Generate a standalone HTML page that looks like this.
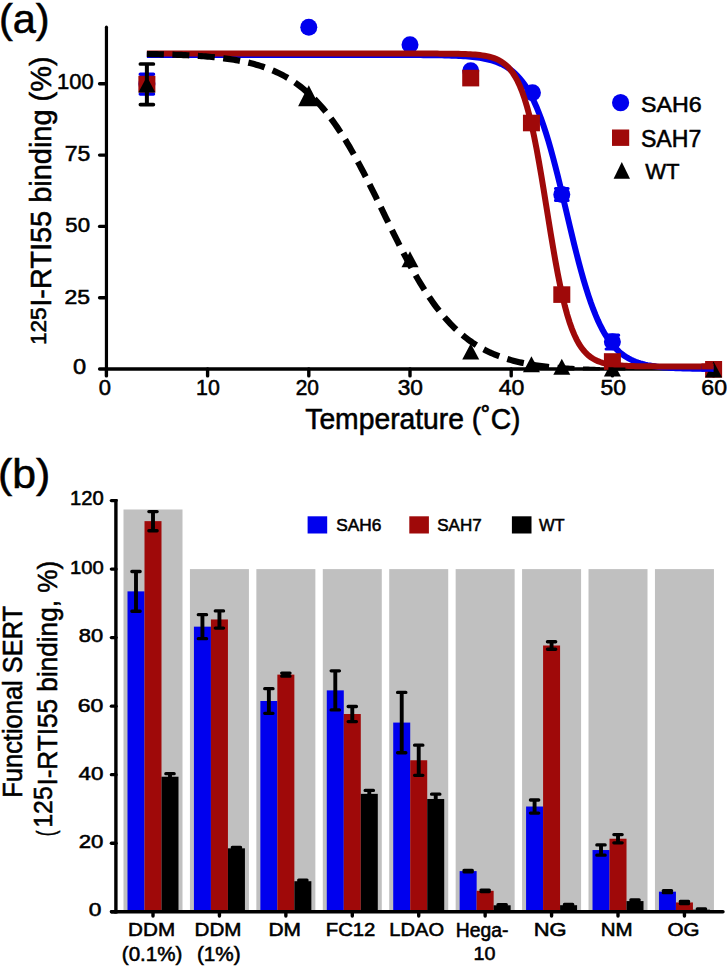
<!DOCTYPE html>
<html><head><meta charset="utf-8"><style>html,body{margin:0;padding:0;background:#fff;}svg{display:block;}text{font-family:"Liberation Sans",sans-serif;}</style></head>
<body><svg width="727" height="966" viewBox="0 0 727 966">
<rect width="727" height="966" fill="#fff"/>
<text transform="translate(-1.08,33.00) scale(0.9996,1)" font-size="41.54" font-family="'Liberation Sans', sans-serif" stroke="#000" stroke-width="0.55" >(a)</text>
<text transform="translate(57.03,89.29) scale(1.0028,1)" font-size="21.89" font-family="'Liberation Sans', sans-serif" stroke="#000" stroke-width="0.55" >100</text>
<text transform="translate(64.72,160.88) scale(1.0057,1)" font-size="22.93" font-family="'Liberation Sans', sans-serif" stroke="#000" stroke-width="0.55" >75</text>
<text transform="translate(65.31,232.10) scale(1.0897,1)" font-size="20.34" font-family="'Liberation Sans', sans-serif" stroke="#000" stroke-width="0.55" >50</text>
<text transform="translate(64.44,303.51) scale(1.1569,1)" font-size="19.92" font-family="'Liberation Sans', sans-serif" stroke="#000" stroke-width="0.55" >25</text>
<text transform="translate(73.08,374.29) scale(1.1084,1)" font-size="21.33" font-family="'Liberation Sans', sans-serif" stroke="#000" stroke-width="0.55" >0</text>
<text transform="translate(98.74,395.39) scale(1.0231,1)" font-size="21.47" font-family="'Liberation Sans', sans-serif" stroke="#000" stroke-width="0.55" >0</text>
<text transform="translate(196.07,395.39) scale(0.9951,1)" font-size="21.47" font-family="'Liberation Sans', sans-serif" stroke="#000" stroke-width="0.55" >10</text>
<text transform="translate(295.65,395.39) scale(0.9744,1)" font-size="21.47" font-family="'Liberation Sans', sans-serif" stroke="#000" stroke-width="0.55" >20</text>
<text transform="translate(397.64,395.39) scale(1.0574,1)" font-size="21.47" font-family="'Liberation Sans', sans-serif" stroke="#000" stroke-width="0.55" >30</text>
<text transform="translate(498.67,395.39) scale(1.0732,1)" font-size="21.47" font-family="'Liberation Sans', sans-serif" stroke="#000" stroke-width="0.55" >40</text>
<text transform="translate(600.38,395.39) scale(1.0685,1)" font-size="21.47" font-family="'Liberation Sans', sans-serif" stroke="#000" stroke-width="0.55" >50</text>
<text transform="translate(701.33,395.39) scale(1.0751,1)" font-size="21.47" font-family="'Liberation Sans', sans-serif" stroke="#000" stroke-width="0.55" >60</text>
<text transform="translate(305.26,428.86) scale(0.9876,1)" font-size="28.64" font-family="'Liberation Sans', sans-serif" stroke="#000" stroke-width="0.55" >Temperature (˚C)</text>
<text transform="translate(50.76,306.77) rotate(-90) scale(0.9776,1)" font-size="29.61" font-family="'Liberation Sans', sans-serif" stroke="#000" stroke-width="0.55" >I-RTI55 binding (%)</text>
<text transform="translate(45.89,345.02) rotate(-90) scale(1.0379,1)" font-size="21.75" font-family="'Liberation Sans', sans-serif" stroke="#000" stroke-width="0.55" >125</text>
<text transform="translate(640.95,111.68) scale(1.0214,1)" font-size="22.74" font-family="'Liberation Sans', sans-serif" stroke="#000" stroke-width="0.55" >SAH6</text>
<text transform="translate(640.95,147.18) scale(1.0028,1)" font-size="23.02" font-family="'Liberation Sans', sans-serif" stroke="#000" stroke-width="0.55" >SAH7</text>
<text transform="translate(645.30,179.20) scale(0.9922,1)" font-size="22.24" font-family="'Liberation Sans', sans-serif" stroke="#000" stroke-width="0.55" >WT</text>
<circle cx="620.6" cy="102.7" r="8.6" fill="#0000ee"/>
<rect x="612" y="129.5" width="17.2" height="16.4" fill="#9f0909"/>
<path d="M613.6,178.7 L630,178.7 L621.8,162.1 Z" fill="#000"/>
<line x1="106.45" y1="27.2" x2="106.45" y2="369.00" stroke="#000" stroke-width="3.2" stroke-linecap="round"/>
<line x1="99.6" y1="369.0" x2="716" y2="369.0" stroke="#000" stroke-width="3.4" stroke-linecap="round"/>
<line x1="99.6" y1="297.70" x2="106" y2="297.70" stroke="#000" stroke-width="3.4" stroke-linecap="round"/>
<line x1="99.6" y1="226.40" x2="106" y2="226.40" stroke="#000" stroke-width="3.4" stroke-linecap="round"/>
<line x1="99.6" y1="155.10" x2="106" y2="155.10" stroke="#000" stroke-width="3.4" stroke-linecap="round"/>
<line x1="99.6" y1="83.80" x2="106" y2="83.80" stroke="#000" stroke-width="3.4" stroke-linecap="round"/>
<line x1="106.40" y1="369.0" x2="106.40" y2="375.9" stroke="#000" stroke-width="3.4" stroke-linecap="round"/>
<line x1="207.60" y1="369.0" x2="207.60" y2="375.9" stroke="#000" stroke-width="3.4" stroke-linecap="round"/>
<line x1="308.80" y1="369.0" x2="308.80" y2="375.9" stroke="#000" stroke-width="3.4" stroke-linecap="round"/>
<line x1="410.00" y1="369.0" x2="410.00" y2="375.9" stroke="#000" stroke-width="3.4" stroke-linecap="round"/>
<line x1="511.20" y1="369.0" x2="511.20" y2="375.9" stroke="#000" stroke-width="3.4" stroke-linecap="round"/>
<line x1="612.40" y1="369.0" x2="612.40" y2="375.9" stroke="#000" stroke-width="3.4" stroke-linecap="round"/>
<line x1="713.60" y1="369.0" x2="713.60" y2="375.9" stroke="#000" stroke-width="3.4" stroke-linecap="round"/>
<path d="M603.90,376.40 L620.90,376.40 L612.40,360.40 Z" fill="#000"/>
<path d="M146.88,54.99 L149.24,54.99 L151.60,54.99 L153.96,54.99 L156.33,54.99 L158.69,54.99 L161.05,54.99 L163.41,54.99 L165.77,54.99 L168.13,54.99 L170.49,54.99 L172.85,54.99 L175.22,54.99 L177.58,54.99 L179.94,54.99 L182.30,54.99 L184.66,54.99 L187.02,54.99 L189.38,54.99 L191.75,54.99 L194.11,54.99 L196.47,54.99 L198.83,54.99 L201.19,54.99 L203.55,54.99 L205.91,54.99 L208.27,54.99 L210.64,54.99 L213.00,54.99 L215.36,54.99 L217.72,54.99 L220.08,54.99 L222.44,54.99 L224.80,54.99 L227.17,54.99 L229.53,54.99 L231.89,54.99 L234.25,54.99 L236.61,54.99 L238.97,54.99 L241.33,54.99 L243.69,54.99 L246.06,54.99 L248.42,54.99 L250.78,54.99 L253.14,54.99 L255.50,54.99 L257.86,54.99 L260.22,54.99 L262.59,54.99 L264.95,54.99 L267.31,54.99 L269.67,54.99 L272.03,54.99 L274.39,54.99 L276.75,54.99 L279.11,54.99 L281.48,54.99 L283.84,54.99 L286.20,54.99 L288.56,54.99 L290.92,54.99 L293.28,54.99 L295.64,54.99 L298.01,54.99 L300.37,54.99 L302.73,55.00 L305.09,55.00 L307.45,55.00 L309.81,55.00 L312.17,55.00 L314.53,55.00 L316.90,55.00 L319.26,55.00 L321.62,55.00 L323.98,55.00 L326.34,55.00 L328.70,55.00 L331.06,55.00 L333.43,55.00 L335.79,55.00 L338.15,55.00 L340.51,55.00 L342.87,55.00 L345.23,55.00 L347.59,55.00 L349.95,55.00 L352.32,55.00 L354.68,55.00 L357.04,55.00 L359.40,55.00 L361.76,55.00 L364.12,55.00 L366.48,55.00 L368.85,55.00 L371.21,55.00 L373.57,55.00 L375.93,55.01 L378.29,55.01 L380.65,55.01 L383.01,55.01 L385.37,55.01 L387.74,55.02 L390.10,55.02 L392.46,55.02 L394.82,55.02 L397.18,55.03 L399.54,55.03 L401.90,55.04 L404.27,55.04 L406.63,55.05 L408.99,55.06 L411.35,55.07 L413.71,55.08 L416.07,55.09 L418.43,55.10 L420.79,55.12 L423.16,55.13 L425.52,55.15 L427.88,55.17 L430.24,55.20 L432.60,55.22 L434.96,55.25 L437.32,55.29 L439.69,55.33 L442.05,55.37 L444.41,55.43 L446.77,55.48 L449.13,55.55 L451.49,55.63 L453.85,55.71 L456.21,55.81 L458.58,55.92 L460.94,56.04 L463.30,56.19 L465.66,56.35 L468.02,56.53 L470.38,56.74 L472.74,56.97 L475.11,57.24 L477.47,57.54 L479.83,57.89 L482.19,58.28 L484.55,58.72 L486.91,59.22 L489.27,59.78 L491.63,60.42 L494.00,61.15 L496.36,61.97 L498.72,62.89 L501.08,63.93 L503.44,65.11 L505.80,66.44 L508.16,67.93 L510.53,69.61 L512.89,71.49 L515.25,73.60 L517.61,75.96 L519.97,78.60 L522.33,81.53 L524.69,84.80 L527.05,88.42 L529.42,92.43 L531.78,96.84 L534.14,101.68 L536.50,106.98 L538.86,112.75 L541.22,119.00 L543.58,125.74 L545.95,132.98 L548.31,140.69 L550.67,148.86 L553.03,157.46 L555.39,166.44 L557.75,175.77 L560.11,185.38 L562.47,195.19 L564.84,205.14 L567.20,215.14 L569.56,225.12 L571.92,235.00 L574.28,244.69 L576.64,254.12 L579.00,263.24 L581.37,271.99 L583.73,280.33 L586.09,288.21 L588.45,295.62 L590.81,302.55 L593.17,308.98 L595.53,314.93 L597.89,320.40 L600.26,325.41 L602.62,329.98 L604.98,334.13 L607.34,337.89 L609.70,341.29 L612.06,344.35 L614.42,347.09 L616.79,349.55 L619.15,351.75 L621.51,353.72 L623.87,355.47 L626.23,357.02 L628.59,358.41 L630.95,359.64 L633.31,360.73 L635.68,361.70 L638.04,362.55 L640.40,363.31 L642.76,363.98 L645.12,364.57 L647.48,365.10 L649.84,365.56 L652.21,365.97 L654.57,366.33 L656.93,366.64 L659.29,366.92 L661.65,367.17 L664.01,367.39 L666.37,367.58 L668.73,367.75 L671.10,367.90 L673.46,368.03 L675.82,368.15 L678.18,368.25 L680.54,368.34 L682.90,368.42 L685.26,368.49 L687.63,368.55 L689.99,368.60 L692.35,368.65 L694.71,368.69 L697.07,368.73 L699.43,368.76 L701.79,368.79 L704.15,368.81 L706.52,368.84 L708.88,368.86 L711.24,368.87 L713.60,368.89" fill="none" stroke="#0000ee" stroke-width="6"/>
<path d="M140.28,74.30 L153.48,74.30 M140.28,93.90 L153.48,93.90" stroke="#0000ee" stroke-width="3.5" fill="none" stroke-linecap="round"/>
<path d="M146.88,74.30 L146.88,93.90" stroke="#0000ee" stroke-width="3.5" fill="none"/>
<circle cx="146.88" cy="84.00" r="8.5" fill="#0000ee"/>
<circle cx="308.80" cy="27.35" r="8.5" fill="#0000ee"/>
<circle cx="410.00" cy="44.80" r="8.5" fill="#0000ee"/>
<circle cx="470.72" cy="70.70" r="8.5" fill="#0000ee"/>
<circle cx="532.45" cy="92.80" r="8.5" fill="#0000ee"/>
<circle cx="561.80" cy="194.60" r="8.5" fill="#0000ee"/>
<circle cx="612.40" cy="341.80" r="8.5" fill="#0000ee"/>
<path d="M555.55,188.50 L568.05,188.50 M555.55,200.40 L568.05,200.40" stroke="#0000ee" stroke-width="3.2" fill="none" stroke-linecap="round"/>
<path d="M561.80,188.50 L561.80,200.40" stroke="#0000ee" stroke-width="3.2" fill="none"/>
<path d="M606.15,335.20 L618.65,335.20 M606.15,349.00 L618.65,349.00" stroke="#0000ee" stroke-width="3.2" fill="none" stroke-linecap="round"/>
<path d="M612.40,335.20 L612.40,349.00" stroke="#0000ee" stroke-width="3.2" fill="none"/>
<path d="M146.88,53.57 L149.24,53.57 L151.60,53.57 L153.96,53.57 L156.33,53.57 L158.69,53.57 L161.05,53.57 L163.41,53.57 L165.77,53.57 L168.13,53.57 L170.49,53.57 L172.85,53.57 L175.22,53.57 L177.58,53.57 L179.94,53.57 L182.30,53.57 L184.66,53.57 L187.02,53.57 L189.38,53.57 L191.75,53.57 L194.11,53.57 L196.47,53.57 L198.83,53.57 L201.19,53.57 L203.55,53.57 L205.91,53.57 L208.27,53.57 L210.64,53.57 L213.00,53.57 L215.36,53.57 L217.72,53.57 L220.08,53.57 L222.44,53.57 L224.80,53.57 L227.17,53.57 L229.53,53.57 L231.89,53.57 L234.25,53.57 L236.61,53.57 L238.97,53.57 L241.33,53.57 L243.69,53.57 L246.06,53.57 L248.42,53.57 L250.78,53.57 L253.14,53.57 L255.50,53.57 L257.86,53.57 L260.22,53.57 L262.59,53.57 L264.95,53.57 L267.31,53.57 L269.67,53.57 L272.03,53.57 L274.39,53.57 L276.75,53.57 L279.11,53.57 L281.48,53.57 L283.84,53.57 L286.20,53.57 L288.56,53.57 L290.92,53.57 L293.28,53.57 L295.64,53.57 L298.01,53.57 L300.37,53.57 L302.73,53.57 L305.09,53.57 L307.45,53.57 L309.81,53.57 L312.17,53.57 L314.53,53.57 L316.90,53.57 L319.26,53.57 L321.62,53.57 L323.98,53.57 L326.34,53.57 L328.70,53.57 L331.06,53.57 L333.43,53.57 L335.79,53.57 L338.15,53.57 L340.51,53.57 L342.87,53.57 L345.23,53.57 L347.59,53.57 L349.95,53.57 L352.32,53.57 L354.68,53.57 L357.04,53.57 L359.40,53.57 L361.76,53.57 L364.12,53.57 L366.48,53.57 L368.85,53.57 L371.21,53.57 L373.57,53.57 L375.93,53.57 L378.29,53.57 L380.65,53.57 L383.01,53.57 L385.37,53.57 L387.74,53.57 L390.10,53.57 L392.46,53.57 L394.82,53.57 L397.18,53.57 L399.54,53.57 L401.90,53.57 L404.27,53.57 L406.63,53.57 L408.99,53.57 L411.35,53.58 L413.71,53.58 L416.07,53.58 L418.43,53.58 L420.79,53.58 L423.16,53.59 L425.52,53.59 L427.88,53.59 L430.24,53.60 L432.60,53.60 L434.96,53.61 L437.32,53.62 L439.69,53.63 L442.05,53.64 L444.41,53.66 L446.77,53.68 L449.13,53.70 L451.49,53.72 L453.85,53.76 L456.21,53.80 L458.58,53.84 L460.94,53.90 L463.30,53.97 L465.66,54.05 L468.02,54.15 L470.38,54.27 L472.74,54.41 L475.11,54.59 L477.47,54.80 L479.83,55.05 L482.19,55.36 L484.55,55.73 L486.91,56.17 L489.27,56.70 L491.63,57.34 L494.00,58.11 L496.36,59.03 L498.72,60.14 L501.08,61.47 L503.44,63.06 L505.80,64.95 L508.16,67.20 L510.53,69.88 L512.89,73.04 L515.25,76.78 L517.61,81.16 L519.97,86.27 L522.33,92.21 L524.69,99.05 L527.05,106.86 L529.42,115.70 L531.78,125.60 L534.14,136.56 L536.50,148.53 L538.86,161.41 L541.22,175.07 L543.58,189.31 L545.95,203.91 L548.31,218.61 L550.67,233.17 L553.03,247.32 L555.39,260.86 L557.75,273.60 L560.11,285.40 L562.47,296.17 L564.84,305.89 L567.20,314.56 L569.56,322.20 L571.92,328.87 L574.28,334.66 L576.64,339.64 L579.00,343.91 L581.37,347.54 L583.73,350.62 L586.09,353.21 L588.45,355.40 L590.81,357.24 L593.17,358.78 L595.53,360.06 L597.89,361.14 L600.26,362.03 L602.62,362.78 L604.98,363.40 L607.34,363.92 L609.70,364.34 L612.06,364.70 L614.42,365.00 L616.79,365.24 L619.15,365.45 L621.51,365.61 L623.87,365.75 L626.23,365.87 L628.59,365.97 L630.95,366.05 L633.31,366.11 L635.68,366.17 L638.04,366.21 L640.40,366.25 L642.76,366.28 L645.12,366.31 L647.48,366.33 L649.84,366.35 L652.21,366.36 L654.57,366.37 L656.93,366.38 L659.29,366.39 L661.65,366.40 L664.01,366.41 L666.37,366.41 L668.73,366.41 L671.10,366.42 L673.46,366.42 L675.82,366.42 L678.18,366.42 L680.54,366.43 L682.90,366.43 L685.26,366.43 L687.63,366.43 L689.99,366.43 L692.35,366.43 L694.71,366.43 L697.07,366.43 L699.43,366.43 L701.79,366.43 L704.15,366.43 L706.52,366.43 L708.88,366.43 L711.24,366.43 L713.60,366.43" fill="none" stroke="#9f0909" stroke-width="6"/>
<rect x="138.38" y="75.80" width="17" height="16.6" fill="#9f0909"/>
<rect x="462.22" y="69.80" width="17" height="16.6" fill="#9f0909"/>
<rect x="522.94" y="114.70" width="17" height="16.6" fill="#9f0909"/>
<rect x="553.30" y="286.30" width="17" height="16.6" fill="#9f0909"/>
<rect x="603.90" y="353.20" width="17" height="16.6" fill="#9f0909"/>
<rect x="705.10" y="361.00" width="17" height="16.6" fill="#9f0909"/>
<path d="M705.10,377.40 L722.10,377.40 L713.60,361.40 Z" fill="#000"/>
<path d="M701.46,368.79 L702.67,368.80 L703.88,368.81 L705.10,368.82 L706.31,368.84 L707.53,368.85 L708.74,368.86 L709.96,368.86 L711.17,368.87 L712.39,368.88 L713.60,368.89" fill="none" stroke="#0000ee" stroke-width="6"/>
<path d="M701.46,366.43 L702.67,366.43 L703.88,366.43 L705.10,366.43 L706.31,366.43 L707.53,366.43 L708.74,366.43 L709.96,366.43 L711.17,366.43 L712.39,366.43 L713.60,366.43" fill="none" stroke="#9f0909" stroke-width="6"/>
<clipPath id="cw"><rect x="100" y="0" width="627" height="370.6"/></clipPath>
<path d="M146.88,53.98 L148.90,54.02 L150.93,54.05 L152.95,54.10 L154.98,54.14 L157.00,54.19 L159.02,54.23 L161.05,54.28 L163.07,54.34 L165.10,54.40 L167.12,54.45 L169.14,54.52 L171.17,54.58 L173.19,54.65 L175.22,54.73 L177.24,54.80 L179.26,54.89 L181.29,54.97 L183.31,55.06 L185.34,55.16 L187.36,55.26 L189.38,55.36 L191.41,55.47 L193.43,55.59 L195.46,55.71 L197.48,55.84 L199.50,55.98 L201.53,56.12 L203.55,56.28 L205.58,56.44 L207.60,56.60 L209.62,56.78 L211.65,56.97 L213.67,57.16 L215.70,57.37 L217.72,57.59 L219.74,57.81 L221.77,58.05 L223.79,58.31 L225.82,58.57 L227.84,58.85 L229.86,59.15 L231.89,59.46 L233.91,59.78 L235.94,60.12 L237.96,60.48 L239.98,60.86 L242.01,61.26 L244.03,61.68 L246.06,62.12 L248.08,62.58 L250.10,63.06 L252.13,63.57 L254.15,64.11 L256.18,64.67 L258.20,65.26 L260.22,65.88 L262.25,66.53 L264.27,67.21 L266.30,67.93 L268.32,68.68 L270.34,69.46 L272.37,70.29 L274.39,71.15 L276.42,72.06 L278.44,73.01 L280.46,74.00 L282.49,75.04 L284.51,76.12 L286.54,77.26 L288.56,78.45 L290.58,79.69 L292.61,80.99 L294.63,82.34 L296.66,83.76 L298.68,85.24 L300.70,86.77 L302.73,88.38 L304.75,90.05 L306.78,91.79 L308.80,93.60 L310.82,95.48 L312.85,97.44 L314.87,99.47 L316.90,101.58 L318.92,103.77 L320.94,106.03 L322.97,108.38 L324.99,110.81 L327.02,113.32 L329.04,115.92 L331.06,118.60 L333.09,121.36 L335.11,124.21 L337.14,127.14 L339.16,130.16 L341.18,133.25 L343.21,136.43 L345.23,139.69 L347.26,143.03 L349.28,146.45 L351.30,149.94 L353.33,153.50 L355.35,157.14 L357.38,160.84 L359.40,164.60 L361.42,168.43 L363.45,172.30 L365.47,176.23 L367.50,180.21 L369.52,184.23 L371.54,188.29 L373.57,192.38 L375.59,196.49 L377.62,200.63 L379.64,204.78 L381.66,208.95 L383.69,213.12 L385.71,217.28 L387.74,221.44 L389.76,225.59 L391.78,229.72 L393.81,233.83 L395.83,237.90 L397.86,241.95 L399.88,245.95 L401.90,249.91 L403.93,253.82 L405.95,257.68 L407.98,261.48 L410.00,265.21 L412.02,268.89 L414.05,272.49 L416.07,276.03 L418.10,279.49 L420.12,282.88 L422.14,286.18 L424.17,289.41 L426.19,292.56 L428.22,295.62 L430.24,298.61 L432.26,301.50 L434.29,304.32 L436.31,307.05 L438.34,309.69 L440.36,312.26 L442.38,314.74 L444.41,317.13 L446.43,319.45 L448.46,321.68 L450.48,323.84 L452.50,325.92 L454.53,327.92 L456.55,329.85 L458.58,331.70 L460.60,333.48 L462.62,335.19 L464.65,336.84 L466.67,338.41 L468.70,339.93 L470.72,341.38 L472.74,342.77 L474.77,344.10 L476.79,345.38 L478.82,346.60 L480.84,347.77 L482.86,348.88 L484.89,349.95 L486.91,350.97 L488.94,351.94 L490.96,352.88 L492.98,353.76 L495.01,354.61 L497.03,355.42 L499.06,356.19 L501.08,356.93 L503.10,357.63 L505.13,358.30 L507.15,358.94 L509.18,359.54 L511.20,360.12 L513.22,360.67 L515.25,361.20 L517.27,361.70 L519.30,362.17 L521.32,362.63 L523.34,363.06 L525.37,363.47 L527.39,363.86 L529.42,364.23 L531.44,364.58 L533.46,364.92 L535.49,365.24 L537.51,365.54 L539.54,365.83 L541.56,366.10 L543.58,366.36 L545.61,366.61 L547.63,366.84 L549.66,367.07 L551.68,367.28 L553.70,367.48 L555.73,367.67 L557.75,367.86 L559.78,368.03 L561.80,368.19 L563.82,368.35 L565.85,368.50 L567.87,368.64 L569.90,368.77 L571.92,368.90 L573.94,369.02 L575.97,369.14 L577.99,369.25 L580.02,369.35 L582.04,369.45 L584.06,369.54 L586.09,369.63 L588.11,369.71 L590.14,369.79 L592.16,369.87 L594.18,369.94 L596.21,370.01 L598.23,370.07 L600.26,370.13 L602.28,370.19 L604.30,370.25 L606.33,370.30 L608.35,370.35 L610.38,370.40 L612.40,370.44 L614.42,370.49 L616.45,370.53 L618.47,370.57 L620.50,370.60 L622.52,370.64 L624.54,370.67 L626.57,370.70 L628.59,370.73 L630.62,370.76 L632.64,370.78" fill="none" stroke="#000" stroke-width="6.2" stroke-dasharray="17 8.5" clip-path="url(#cw)"/>
<path d="M140.38,64.00 L153.38,64.00 M140.38,104.60 L153.38,104.60" stroke="#000" stroke-width="3.7" fill="none" stroke-linecap="round"/>
<path d="M146.88,64.00 L146.88,104.60" stroke="#000" stroke-width="4" fill="none"/>
<path d="M138.38,92.50 L155.38,92.50 L146.88,76.50 Z" fill="#000"/>
<path d="M401.50,267.30 L418.50,267.30 L410.00,251.30 Z" fill="#000"/>
<path d="M462.22,359.40 L479.22,359.40 L470.72,343.40 Z" fill="#000"/>
<path d="M522.94,372.20 L539.94,372.20 L531.44,356.20 Z" fill="#000"/>
<path d="M553.30,374.80 L570.30,374.80 L561.80,358.80 Z" fill="#000"/>
<path d="M298.10,106.30 L319.50,106.30 L308.80,85.30 Z" fill="#000"/>
<text transform="translate(-1.95,488.02) scale(1.0554,1)" font-size="40.47" font-family="'Liberation Sans', sans-serif" stroke="#000" stroke-width="0.55" >(b)</text>
<rect x="123.50" y="509.49" width="59" height="402.21" fill="#c0c0c0"/>
<rect x="189.93" y="569.10" width="59" height="342.60" fill="#c0c0c0"/>
<rect x="256.36" y="569.10" width="59" height="342.60" fill="#c0c0c0"/>
<rect x="322.79" y="569.10" width="59" height="342.60" fill="#c0c0c0"/>
<rect x="389.22" y="569.10" width="59" height="342.60" fill="#c0c0c0"/>
<rect x="455.65" y="569.10" width="59" height="342.60" fill="#c0c0c0"/>
<rect x="522.08" y="569.10" width="59" height="342.60" fill="#c0c0c0"/>
<rect x="588.51" y="569.10" width="59" height="342.60" fill="#c0c0c0"/>
<rect x="654.94" y="569.10" width="59" height="342.60" fill="#c0c0c0"/>
<rect x="127.50" y="591.37" width="17.00" height="320.33" fill="#0000ee"/>
<rect x="144.50" y="521.14" width="17.00" height="390.56" fill="#9f0909"/>
<rect x="161.50" y="776.72" width="17.00" height="134.98" fill="#000"/>
<path d="M131.85,571.50 L140.15,571.50 M131.85,611.24 L140.15,611.24" stroke="#000" stroke-width="3.3" fill="none" stroke-linecap="round"/>
<path d="M136.00,571.50 L136.00,611.24" stroke="#000" stroke-width="3.9" fill="none"/>
<path d="M148.85,511.54 L157.15,511.54 M148.85,530.73 L157.15,530.73" stroke="#000" stroke-width="3.3" fill="none" stroke-linecap="round"/>
<path d="M153.00,511.54 L153.00,530.73" stroke="#000" stroke-width="3.9" fill="none"/>
<path d="M165.85,773.63 L174.15,773.63 M165.85,779.80 L174.15,779.80" stroke="#000" stroke-width="3.3" fill="none" stroke-linecap="round"/>
<path d="M170.00,773.63 L170.00,779.80" stroke="#000" stroke-width="3.9" fill="none"/>
<rect x="193.93" y="626.66" width="17.00" height="285.04" fill="#0000ee"/>
<rect x="210.93" y="619.46" width="17.00" height="292.24" fill="#9f0909"/>
<rect x="227.93" y="848.32" width="17.00" height="63.38" fill="#000"/>
<path d="M198.28,614.67 L206.58,614.67 M198.28,638.65 L206.58,638.65" stroke="#000" stroke-width="3.3" fill="none" stroke-linecap="round"/>
<path d="M202.43,614.67 L202.43,638.65" stroke="#000" stroke-width="3.9" fill="none"/>
<path d="M215.28,610.90 L223.58,610.90 M215.28,628.03 L223.58,628.03" stroke="#000" stroke-width="3.3" fill="none" stroke-linecap="round"/>
<path d="M219.43,610.90 L219.43,628.03" stroke="#000" stroke-width="3.9" fill="none"/>
<path d="M232.28,847.29 L240.58,847.29 M232.28,849.35 L240.58,849.35" stroke="#000" stroke-width="3.3" fill="none" stroke-linecap="round"/>
<path d="M236.43,847.29 L236.43,849.35" stroke="#000" stroke-width="3.9" fill="none"/>
<rect x="260.36" y="701.00" width="17.00" height="210.70" fill="#0000ee"/>
<rect x="277.36" y="674.62" width="17.00" height="237.08" fill="#9f0909"/>
<rect x="294.36" y="881.21" width="17.00" height="30.49" fill="#000"/>
<path d="M264.71,688.67 L273.01,688.67 M264.71,713.33 L273.01,713.33" stroke="#000" stroke-width="3.3" fill="none" stroke-linecap="round"/>
<path d="M268.86,688.67 L268.86,713.33" stroke="#000" stroke-width="3.9" fill="none"/>
<path d="M281.71,673.08 L290.01,673.08 M281.71,676.16 L290.01,676.16" stroke="#000" stroke-width="3.3" fill="none" stroke-linecap="round"/>
<path d="M285.86,673.08 L285.86,676.16" stroke="#000" stroke-width="3.9" fill="none"/>
<path d="M298.71,880.18 L307.01,880.18 M298.71,882.24 L307.01,882.24" stroke="#000" stroke-width="3.3" fill="none" stroke-linecap="round"/>
<path d="M302.86,880.18 L302.86,882.24" stroke="#000" stroke-width="3.9" fill="none"/>
<rect x="326.79" y="690.38" width="17.00" height="221.32" fill="#0000ee"/>
<rect x="343.79" y="714.02" width="17.00" height="197.68" fill="#9f0909"/>
<rect x="360.79" y="793.85" width="17.00" height="117.85" fill="#000"/>
<path d="M331.14,670.85 L339.44,670.85 M331.14,709.91 L339.44,709.91" stroke="#000" stroke-width="3.3" fill="none" stroke-linecap="round"/>
<path d="M335.29,670.85 L335.29,709.91" stroke="#000" stroke-width="3.9" fill="none"/>
<path d="M348.14,706.48 L356.44,706.48 M348.14,721.56 L356.44,721.56" stroke="#000" stroke-width="3.3" fill="none" stroke-linecap="round"/>
<path d="M352.29,706.48 L352.29,721.56" stroke="#000" stroke-width="3.9" fill="none"/>
<path d="M365.14,790.42 L373.44,790.42 M365.14,797.27 L373.44,797.27" stroke="#000" stroke-width="3.3" fill="none" stroke-linecap="round"/>
<path d="M369.29,790.42 L369.29,797.27" stroke="#000" stroke-width="3.9" fill="none"/>
<rect x="393.22" y="722.58" width="17.00" height="189.12" fill="#0000ee"/>
<rect x="410.22" y="760.27" width="17.00" height="151.43" fill="#9f0909"/>
<rect x="427.22" y="798.98" width="17.00" height="112.72" fill="#000"/>
<path d="M397.57,692.44 L405.87,692.44 M397.57,752.73 L405.87,752.73" stroke="#000" stroke-width="3.3" fill="none" stroke-linecap="round"/>
<path d="M401.72,692.44 L401.72,752.73" stroke="#000" stroke-width="3.9" fill="none"/>
<path d="M414.57,745.20 L422.87,745.20 M414.57,775.35 L422.87,775.35" stroke="#000" stroke-width="3.3" fill="none" stroke-linecap="round"/>
<path d="M418.72,745.20 L418.72,775.35" stroke="#000" stroke-width="3.9" fill="none"/>
<path d="M431.57,794.19 L439.87,794.19 M431.57,803.78 L439.87,803.78" stroke="#000" stroke-width="3.3" fill="none" stroke-linecap="round"/>
<path d="M435.72,794.19 L435.72,803.78" stroke="#000" stroke-width="3.9" fill="none"/>
<rect x="459.65" y="871.10" width="17.00" height="40.60" fill="#0000ee"/>
<rect x="476.65" y="890.80" width="17.00" height="20.90" fill="#9f0909"/>
<rect x="493.65" y="905.29" width="17.00" height="6.41" fill="#000"/>
<path d="M464.00,870.42 L472.30,870.42 M464.00,871.79 L472.30,871.79" stroke="#000" stroke-width="3.3" fill="none" stroke-linecap="round"/>
<path d="M468.15,870.42 L468.15,871.79" stroke="#000" stroke-width="3.9" fill="none"/>
<path d="M481.00,890.12 L489.30,890.12 M481.00,891.49 L489.30,891.49" stroke="#000" stroke-width="3.3" fill="none" stroke-linecap="round"/>
<path d="M485.15,890.12 L485.15,891.49" stroke="#000" stroke-width="3.9" fill="none"/>
<path d="M498.00,904.61 L506.30,904.61 M498.00,905.98 L506.30,905.98" stroke="#000" stroke-width="3.3" fill="none" stroke-linecap="round"/>
<path d="M502.15,904.61 L502.15,905.98" stroke="#000" stroke-width="3.9" fill="none"/>
<rect x="526.08" y="806.52" width="17.00" height="105.18" fill="#0000ee"/>
<rect x="543.08" y="645.50" width="17.00" height="266.20" fill="#9f0909"/>
<rect x="560.08" y="905.19" width="17.00" height="6.51" fill="#000"/>
<path d="M530.43,800.01 L538.73,800.01 M530.43,813.03 L538.73,813.03" stroke="#000" stroke-width="3.3" fill="none" stroke-linecap="round"/>
<path d="M534.58,800.01 L534.58,813.03" stroke="#000" stroke-width="3.9" fill="none"/>
<path d="M547.43,641.73 L555.73,641.73 M547.43,649.27 L555.73,649.27" stroke="#000" stroke-width="3.3" fill="none" stroke-linecap="round"/>
<path d="M551.58,641.73 L551.58,649.27" stroke="#000" stroke-width="3.9" fill="none"/>
<path d="M564.43,904.51 L572.73,904.51 M564.43,905.88 L572.73,905.88" stroke="#000" stroke-width="3.3" fill="none" stroke-linecap="round"/>
<path d="M568.58,904.51 L568.58,905.88" stroke="#000" stroke-width="3.9" fill="none"/>
<rect x="592.51" y="850.03" width="17.00" height="61.67" fill="#0000ee"/>
<rect x="609.51" y="838.73" width="17.00" height="72.97" fill="#9f0909"/>
<rect x="626.51" y="901.08" width="17.00" height="10.62" fill="#000"/>
<path d="M596.86,844.89 L605.16,844.89 M596.86,855.17 L605.16,855.17" stroke="#000" stroke-width="3.3" fill="none" stroke-linecap="round"/>
<path d="M601.01,844.89 L601.01,855.17" stroke="#000" stroke-width="3.9" fill="none"/>
<path d="M613.86,834.62 L622.16,834.62 M613.86,842.84 L622.16,842.84" stroke="#000" stroke-width="3.3" fill="none" stroke-linecap="round"/>
<path d="M618.01,834.62 L618.01,842.84" stroke="#000" stroke-width="3.9" fill="none"/>
<path d="M630.86,899.88 L639.16,899.88 M630.86,902.28 L639.16,902.28" stroke="#000" stroke-width="3.3" fill="none" stroke-linecap="round"/>
<path d="M635.01,899.88 L635.01,902.28" stroke="#000" stroke-width="3.9" fill="none"/>
<rect x="658.94" y="891.66" width="17.00" height="20.04" fill="#0000ee"/>
<rect x="675.94" y="902.45" width="17.00" height="9.25" fill="#9f0909"/>
<rect x="692.94" y="909.64" width="17.00" height="2.06" fill="#000"/>
<path d="M663.29,890.63 L671.59,890.63 M663.29,892.69 L671.59,892.69" stroke="#000" stroke-width="3.3" fill="none" stroke-linecap="round"/>
<path d="M667.44,890.63 L667.44,892.69" stroke="#000" stroke-width="3.9" fill="none"/>
<path d="M680.29,901.42 L688.59,901.42 M680.29,903.48 L688.59,903.48" stroke="#000" stroke-width="3.3" fill="none" stroke-linecap="round"/>
<path d="M684.44,901.42 L684.44,903.48" stroke="#000" stroke-width="3.9" fill="none"/>
<path d="M697.29,908.96 L705.59,908.96 M697.29,910.33 L705.59,910.33" stroke="#000" stroke-width="3.3" fill="none" stroke-linecap="round"/>
<path d="M701.44,908.96 L701.44,910.33" stroke="#000" stroke-width="3.9" fill="none"/>
<text transform="translate(128.11,936.20) scale(1.0835,1)" font-size="19.04" font-family="'Liberation Sans', sans-serif" stroke="#000" stroke-width="0.55" >DDM</text>
<text transform="translate(194.61,936.20) scale(1.0810,1)" font-size="19.04" font-family="'Liberation Sans', sans-serif" stroke="#000" stroke-width="0.55" >DDM</text>
<text transform="translate(268.48,936.00) scale(1.1156,1)" font-size="18.75" font-family="'Liberation Sans', sans-serif" stroke="#000" stroke-width="0.55" >DM</text>
<text transform="translate(325.73,936.02) scale(1.0982,1)" font-size="18.50" font-family="'Liberation Sans', sans-serif" stroke="#000" stroke-width="0.55" >FC12</text>
<text transform="translate(389.35,936.02) scale(1.0858,1)" font-size="18.50" font-family="'Liberation Sans', sans-serif" stroke="#000" stroke-width="0.55" >LDAO</text>
<text transform="translate(455.81,936.54) scale(0.9891,1)" font-size="19.54" font-family="'Liberation Sans', sans-serif" stroke="#000" stroke-width="0.55" >Hega-</text>
<text transform="translate(533.70,936.02) scale(1.1869,1)" font-size="18.50" font-family="'Liberation Sans', sans-serif" stroke="#000" stroke-width="0.55" >NG</text>
<text transform="translate(600.71,936.00) scale(1.0965,1)" font-size="18.75" font-family="'Liberation Sans', sans-serif" stroke="#000" stroke-width="0.55" >NM</text>
<text transform="translate(667.43,936.02) scale(1.1121,1)" font-size="18.50" font-family="'Liberation Sans', sans-serif" stroke="#000" stroke-width="0.55" >OG</text>
<text transform="translate(121.83,960.94) scale(1.0242,1)" font-size="20.07" font-family="'Liberation Sans', sans-serif" stroke="#000" stroke-width="0.55" >(0.1%)</text>
<text transform="translate(196.91,960.94) scale(1.0329,1)" font-size="20.07" font-family="'Liberation Sans', sans-serif" stroke="#000" stroke-width="0.55" >(1%)</text>
<text transform="translate(473.60,960.22) scale(1.0598,1)" font-size="18.64" font-family="'Liberation Sans', sans-serif" stroke="#000" stroke-width="0.55" >10</text>
<line x1="115.9" y1="500.6" x2="115.9" y2="911.70" stroke="#000" stroke-width="3.4" stroke-linecap="square"/>
<line x1="111.6" y1="911.80" x2="723" y2="911.80" stroke="#000" stroke-width="3.4" stroke-linecap="round"/>
<line x1="111.4" y1="911.70" x2="116" y2="911.70" stroke="#000" stroke-width="3.4" stroke-linecap="round"/>
<line x1="111.4" y1="843.18" x2="116" y2="843.18" stroke="#000" stroke-width="3.4" stroke-linecap="round"/>
<line x1="111.4" y1="774.66" x2="116" y2="774.66" stroke="#000" stroke-width="3.4" stroke-linecap="round"/>
<line x1="111.4" y1="706.14" x2="116" y2="706.14" stroke="#000" stroke-width="3.4" stroke-linecap="round"/>
<line x1="111.4" y1="637.62" x2="116" y2="637.62" stroke="#000" stroke-width="3.4" stroke-linecap="round"/>
<line x1="111.4" y1="569.10" x2="116" y2="569.10" stroke="#000" stroke-width="3.4" stroke-linecap="round"/>
<line x1="111.4" y1="500.58" x2="116" y2="500.58" stroke="#000" stroke-width="3.4" stroke-linecap="round"/>
<text transform="translate(70.06,505.41) scale(1.0224,1)" font-size="19.77" font-family="'Liberation Sans', sans-serif" stroke="#000" stroke-width="0.55" >120</text>
<text transform="translate(70.06,574.02) scale(1.0681,1)" font-size="18.93" font-family="'Liberation Sans', sans-serif" stroke="#000" stroke-width="0.55" >100</text>
<text transform="translate(78.85,641.92) scale(1.2085,1)" font-size="18.08" font-family="'Liberation Sans', sans-serif" stroke="#000" stroke-width="0.55" >80</text>
<text transform="translate(77.83,711.72) scale(1.2713,1)" font-size="18.08" font-family="'Liberation Sans', sans-serif" stroke="#000" stroke-width="0.55" >60</text>
<text transform="translate(78.49,779.92) scale(1.2376,1)" font-size="18.08" font-family="'Liberation Sans', sans-serif" stroke="#000" stroke-width="0.55" >40</text>
<text transform="translate(78.68,848.12) scale(1.2179,1)" font-size="18.22" font-family="'Liberation Sans', sans-serif" stroke="#000" stroke-width="0.55" >20</text>
<text transform="translate(88.81,916.32) scale(1.2515,1)" font-size="18.22" font-family="'Liberation Sans', sans-serif" stroke="#000" stroke-width="0.55" >0</text>
<line x1="153.00" y1="911.7" x2="153.00" y2="916.1" stroke="#000" stroke-width="3.4" stroke-linecap="round"/>
<line x1="219.43" y1="911.7" x2="219.43" y2="916.1" stroke="#000" stroke-width="3.4" stroke-linecap="round"/>
<line x1="285.86" y1="911.7" x2="285.86" y2="916.1" stroke="#000" stroke-width="3.4" stroke-linecap="round"/>
<line x1="352.29" y1="911.7" x2="352.29" y2="916.1" stroke="#000" stroke-width="3.4" stroke-linecap="round"/>
<line x1="418.72" y1="911.7" x2="418.72" y2="916.1" stroke="#000" stroke-width="3.4" stroke-linecap="round"/>
<line x1="485.15" y1="911.7" x2="485.15" y2="916.1" stroke="#000" stroke-width="3.4" stroke-linecap="round"/>
<line x1="551.58" y1="911.7" x2="551.58" y2="916.1" stroke="#000" stroke-width="3.4" stroke-linecap="round"/>
<line x1="618.01" y1="911.7" x2="618.01" y2="916.1" stroke="#000" stroke-width="3.4" stroke-linecap="round"/>
<line x1="684.44" y1="911.7" x2="684.44" y2="916.1" stroke="#000" stroke-width="3.4" stroke-linecap="round"/>
<rect x="307.6" y="516.3" width="19.6" height="17.2" fill="#0000ee"/>
<rect x="409.3" y="516.3" width="19.6" height="17.2" fill="#9f0909"/>
<rect x="511.9" y="516.3" width="19.6" height="17.2" fill="#000"/>
<text transform="translate(336.32,530.74) scale(1.0548,1)" font-size="16.38" font-family="'Liberation Sans', sans-serif" stroke="#000" stroke-width="0.55" >SAH6</text>
<text transform="translate(437.23,530.74) scale(1.0380,1)" font-size="16.38" font-family="'Liberation Sans', sans-serif" stroke="#000" stroke-width="0.55" >SAH7</text>
<text transform="translate(538.93,530.90) scale(0.9786,1)" font-size="16.86" font-family="'Liberation Sans', sans-serif" stroke="#000" stroke-width="0.55" >WT</text>
<text transform="translate(22.20,797.69) rotate(-90) scale(0.9265,1)" font-size="27.47" font-family="'Liberation Sans', sans-serif" stroke="#000" stroke-width="0.55" >Functional SERT</text>
<text transform="translate(56.50,785.61) rotate(-90) scale(0.9628,1)" font-size="27.18" font-family="'Liberation Sans', sans-serif" stroke="#000" stroke-width="0.55" >I-RTI55 binding, %)</text>
<text transform="translate(55.36,836.28) rotate(-90) scale(0.6849,1)" font-size="25.33" font-family="'Liberation Sans', sans-serif" stroke="#000" stroke-width="0.55" >(</text>
<text transform="translate(52.15,827.80) rotate(-90) scale(0.9633,1)" font-size="25.85" font-family="'Liberation Sans', sans-serif" stroke="#000" stroke-width="0.55" >125</text>
</svg></body></html>
